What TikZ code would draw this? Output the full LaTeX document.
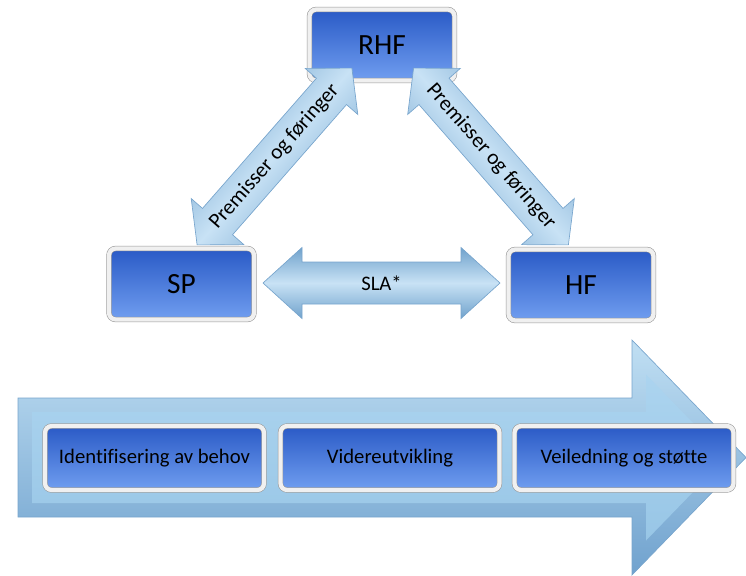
\documentclass[tikz,border=0pt]{standalone}
\usepackage{fontspec}
\setmainfont{Carlito}[Ligatures=NoCommon]
\usetikzlibrary{calc}
\def\px{0.75pt}
\definecolor{boxtop}{RGB}{42,90,198}
\definecolor{boxbot}{RGB}{112,158,240}
\definecolor{framegray}{RGB}{150,150,150}
\definecolor{frameband}{RGB}{240,240,240}
\definecolor{arrlight}{RGB}{200,226,245}
\definecolor{arrmid}{RGB}{160,202,233}
\definecolor{arrdark}{RGB}{112,162,204}
\definecolor{arredge}{RGB}{120,165,205}
\definecolor{bevlight}{RGB}{192,223,243}
\definecolor{bevdark}{RGB}{112,162,206}
\definecolor{facetop}{RGB}{172,212,239}
\definecolor{facebot}{RGB}{152,198,230}
\newcommand{\blockarrow}[5]{% #1 shading angle, #2 half length, #3 shaft half, #4 head half, #5 head length
  \path[blockarrowstyle, shading angle=#1]
    (-#2,0) -- ({-#2+#5},{-#4}) -- ({-#2+#5},{-#3}) -- ({#2-#5},{-#3}) -- ({#2-#5},{-#4})
    -- (#2,0) -- ({#2-#5},{#4}) -- ({#2-#5},{#3}) -- ({-#2+#5},{#3}) -- ({-#2+#5},{#4}) -- cycle;}
\begin{document}
\begin{tikzpicture}[x=0.75pt,y=-0.75pt,
  box/.style={draw=framegray, double=frameband, double distance=3.2pt, rounded corners=5pt,
    top color=boxtop, bottom color=boxbot, text=black, inner sep=0pt},
  bigbox/.style={box, minimum width=145*\px, minimum height=71*\px, font=\fontsize{22}{24}\selectfont},
  stepbox/.style={box, minimum width=219*\px, minimum height=64*\px, font=\fontsize{15.5}{18}\selectfont},
  arrowlabel/.style={font=\fontsize{15.5}{17}\selectfont, inner sep=0pt, text=black},
  difflabel/.style={arrowlabel, font=\fontsize{16}{18}\selectfont},
  blockarrowstyle/.style={draw=arredge, line width=0.5pt, top color=arrdark, bottom color=arrdark, middle color=arrlight},
  bigarrowouter/.style={draw=arredge, line width=0.5pt, top color=bevlight, bottom color=bevdark},
  bigarrowinner/.style={top color=facetop, bottom color=facebot}
]
\useasboundingbox (0,0) rectangle (746,575);

% big process arrow
\path[bigarrowouter] (18,398) -- (632,398) -- (632,340) -- (746,457.5) -- (632,575) -- (632,517) -- (18,517) -- cycle;
\path[bigarrowinner] (32,412) -- (646,412) -- (646,374.5) -- (726.5,457.5) -- (646,540.5) -- (646,503) -- (32,503) -- cycle;

% process steps
\node[stepbox] (ident) at (154.5,458) {Identifisering av behov};
\node[stepbox] (vider) at (390,458) {Videreutvikling};
\node[stepbox] (veil) at (624,458) {Veiledning og støtte};

% organisation boxes
\node[bigbox] (rhf) at (382,45) {RHF};
\node[bigbox] (sp) at (181.5,284) {SP};
\node[bigbox] (hf) at (581,285) {HF};

% SLA double arrow between SP and HF
\begin{scope}[shift={(381.5,283)}]
  \blockarrow{0}{118.5}{21}{35.5}{39}
  \node[arrowlabel] (sla) at (0,0) {SLA*};
\end{scope}

% SP <-> RHF
\begin{scope}[shift={(274.5,156.5)}, rotate=48.8]
  \blockarrow{48.8}{117.5}{20}{35}{31}
  \node[difflabel, rotate=48.8] (pfl) at (0,0) {Premisser og føringer};
\end{scope}

% RHF <-> HF
\begin{scope}[shift={(491,156.5)}, rotate=-48.8]
  \blockarrow{-48.8}{117.5}{20}{35}{31}
  \node[difflabel, rotate=-48.8] (pfr) at (0,0) {Premisser og føringer};
\end{scope}
\end{tikzpicture}
\end{document}
